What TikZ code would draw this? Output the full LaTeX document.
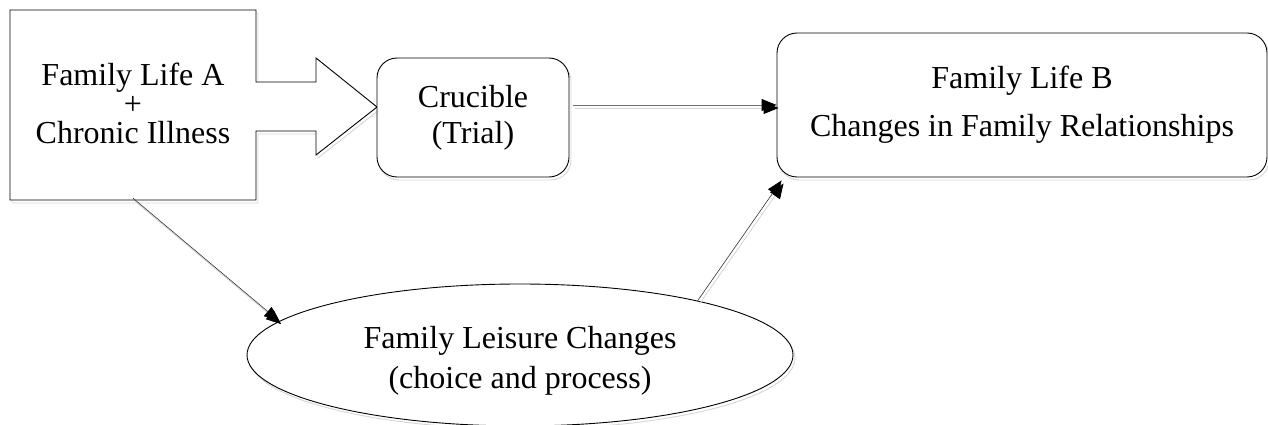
\documentclass[tikz,border=0pt]{standalone}
\usepackage{fontspec}
\setmainfont{Liberation Serif}
\usetikzlibrary{shapes.geometric,arrows.meta,calc}
\begin{document}
\begin{tikzpicture}[x=1pt,y=-1pt,
  shade line/.style={preaction={draw=black!16,line width=0.9pt,transform canvas={xshift=2pt,yshift=-3pt}}},
  outline/.style={draw=black,line width=0.9pt,fill=white},
  rbox/.style={outline,shade line,rounded corners=20pt,inner sep=0pt,align=center},
  oval/.style={outline,shade line,ellipse,inner sep=0pt,align=center},
  txt/.style={inner sep=0pt,align=center},
  conn/.style={draw=black!80,line width=0.6pt,shade line,-{Triangle[length=15pt,width=12pt,color=black]}},
  font=\fontsize{32}{36}\selectfont]
\useasboundingbox (0,0) rectangle (1268,425);
% callout shape with arrow
\draw[outline,shade line] (10,10) -- (256,10) -- (256,82) -- (316,82) -- (316,58) -- (377,107)
  -- (316,155) -- (316,131) -- (256,131) -- (256,200) -- (10,200) -- cycle;
\node[txt,minimum width=246pt,minimum height=190pt,font=\fontsize{32}{29}\selectfont] (A) at (133,103)
  {Family Life A\\+\\Chronic Illness};
\node[rbox,minimum width=192pt,minimum height=119pt] (C) at (473,117.5) {Crucible\\(Trial)};
\node[rbox,minimum width=490pt,minimum height=144pt,font=\fontsize{32}{48}\selectfont] (B) at (1022,105)
  {Family Life B\\Changes in Family Relationships};
\node[oval,minimum width=546pt,minimum height=142pt,font=\fontsize{32}{40}\selectfont] (L) at (520,355)
  {\rule{0pt}{33pt}Family Leisure Changes\\(choice and process)};
\coordinate (Bc) at ($(B.south west)+(5,3)$);
\draw[conn,draw=black!55,line width=0.9pt] ($(C.east |- B.west)+(4,0)$) -- (B.west);
\draw[conn] (A.south) -- (L.172);
\draw[conn] (L.17) -- (Bc);
\end{tikzpicture}
\end{document}
